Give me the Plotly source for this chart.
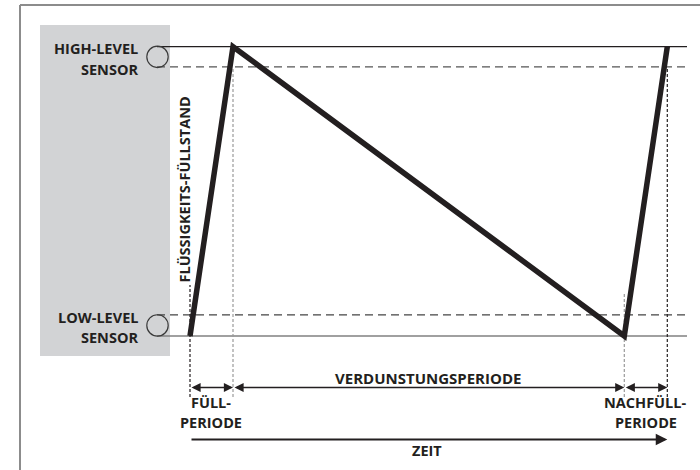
import plotly.graph_objects as go

# ---------------- data ----------------
phase_time = [0, 1, 10.1, 11.1]        # fill start, full, empty, full again
phase_level = [0, 1, 0, 1]             # 0 = low-level sensor, 1 = high-level sensor
high_switch = 0.93                     # high sensor switching band (dashed)
low_switch = 0.073                     # low sensor switching band (dashed)
sensor_labels = [["HIGH-LEVEL", "SENSOR"], ["LOW-LEVEL", "SENSOR"]]
period_labels = [["FÜLL-", "PERIODE"], ["VERDUNSTUNGSPERIODE"], ["NACHFÜLL-", "PERIODE"]]
y_title = "FLÜSSIGKEITS-FÜLLSTAND"
x_title = "ZEIT"

# ---------------- geometry (layout only) ----------------
W, H = 700, 470
X0PX, XSCALE = 190, 43.0          # pixel of t=0, pixels per time unit
Y0PX, YSCALE = 336, 289.3         # pixel of level 0, pixels per level unit


def px2x(p):
    return (p - X0PX) / XSCALE


def py2y(p):
    return (Y0PX - p) / YSCALE


INK = "#231f20"
FONT = "Open Sans"
FS = 14.5

fig = go.Figure()

# level curve
fig.add_trace(go.Scatter(x=phase_time, y=phase_level, mode="lines",
                         line=dict(color=INK, width=5.5), hoverinfo="skip"))

shapes = []
# frame (top + left)
shapes.append(dict(type="line", xref="paper", yref="paper", x0=20 / W, x1=1, y0=1 - 5 / H, y1=1 - 5 / H,
                   line=dict(color="#8c8c8c", width=2), layer="below"))
shapes.append(dict(type="line", xref="paper", yref="paper", x0=20 / W, x1=20 / W, y0=0, y1=1 - 5 / H,
                   line=dict(color="#8c8c8c", width=2), layer="below"))
# grey sensor panel
shapes.append(dict(type="rect", xref="x", yref="y", x0=px2x(40), x1=px2x(170), y0=py2y(356), y1=py2y(25),
                   fillcolor="#d2d3d5", line=dict(width=0), layer="below"))

x_left = px2x(157)
x_right = px2x(687)
# sensor levels
shapes.append(dict(type="line", xref="x", yref="y", x0=x_left, x1=x_right, y0=phase_level[1], y1=phase_level[1],
                   line=dict(color=INK, width=1.3), layer="below"))
shapes.append(dict(type="line", xref="x", yref="y", x0=x_left, x1=x_right, y0=high_switch, y1=high_switch,
                   line=dict(color="#555555", width=1.3, dash="8px,5px"), layer="below"))
shapes.append(dict(type="line", xref="x", yref="y", x0=x_left, x1=x_right, y0=low_switch, y1=low_switch,
                   line=dict(color="#444444", width=1.3, dash="8px,5px"), layer="below"))
shapes.append(dict(type="line", xref="x", yref="y", x0=x_left, x1=x_right, y0=phase_level[0], y1=phase_level[0],
                   line=dict(color="#808080", width=1.5), layer="below"))

# sensor circles
r_x = 10.7 / XSCALE
for lo, hi in [(high_switch, phase_level[1]), (phase_level[0], low_switch)]:
    cy = (lo + hi) / 2
    r_y = 10.7 / YSCALE
    shapes.append(dict(type="circle", xref="x", yref="y", x0=px2x(157.5) - r_x, x1=px2x(157.5) + r_x,
                       y0=cy - r_y, y1=cy + r_y, line=dict(color="#3a3a3a", width=1.2), layer="below"))

# dotted period markers
y_bottom = py2y(397)
markers = [(phase_time[0], py2y(285), INK), (phase_time[1], high_switch, "#9a9a9a"),
           (phase_time[2], py2y(292), "#9a9a9a"), (phase_time[3], high_switch, INK)]
for t, ytop, col in markers:
    shapes.append(dict(type="line", xref="x", yref="y", x0=t, x1=t, y0=y_bottom, y1=ytop,
                       line=dict(color=col, width=1.2, dash="3px,2px"), layer="below"))

annotations = []
# period arrows
y_arrow = py2y(387.5)
for a, b in [(0, 1), (1, 2), (2, 3)]:
    annotations.append(dict(x=phase_time[b], y=y_arrow, ax=phase_time[a], ay=y_arrow,
                            xref="x", yref="y", axref="x", ayref="y", text="", showarrow=True,
                            arrowside="end+start", arrowhead=2, startarrowhead=2,
                            arrowsize=1.3, startarrowsize=1.3, arrowwidth=1.4, arrowcolor=INK,
                            standoff=0, startstandoff=0))
# time arrow
y_time = py2y(439.5)
annotations.append(dict(x=phase_time[3], y=y_time, ax=phase_time[0], ay=y_time,
                        xref="x", yref="y", axref="x", ayref="y", text="", showarrow=True,
                        arrowhead=2, arrowsize=1.05, arrowwidth=2.2, arrowcolor=INK, standoff=0))


def label(text, xp, yp, anchor="center", size=FS, angle=0):
    annotations.append(dict(x=px2x(xp), y=py2y(yp), xref="x", yref="y", text="<b>" + text + "</b>",
                            showarrow=False, xanchor=anchor, yanchor="middle", textangle=angle,
                            font=dict(family=FONT, size=size, color=INK)))


# sensor labels
label(sensor_labels[0][0], 139.5, 48.5, "right")
label(sensor_labels[0][1], 139.5, 69, "right")
label(sensor_labels[1][0], 139.5, 317, "right")
label(sensor_labels[1][1], 139.5, 337.5, "right")
# period labels
label(period_labels[0][0], 211, 402)
label(period_labels[0][1], 211, 422.5)
label(period_labels[1][0], 428, 378, size=15)
label(period_labels[2][0], 645, 402)
label(period_labels[2][1], 645.5, 422.5)
label(x_title, 427, 450)
label(y_title, 183.5, 190, angle=-90)

fig.update_layout(
    width=W, height=H, margin=dict(l=0, r=0, t=0, b=0),
    paper_bgcolor="white", plot_bgcolor="white", showlegend=False,
    xaxis=dict(range=[px2x(0), px2x(W)], visible=False, fixedrange=True),
    yaxis=dict(range=[py2y(H), py2y(0)], visible=False, fixedrange=True),
    shapes=shapes, annotations=annotations,
)

fig.write_html("out.html", config={"displayModeBar": False},
               post_script="document.body.style.margin='0';document.body.style.overflow='hidden';")
